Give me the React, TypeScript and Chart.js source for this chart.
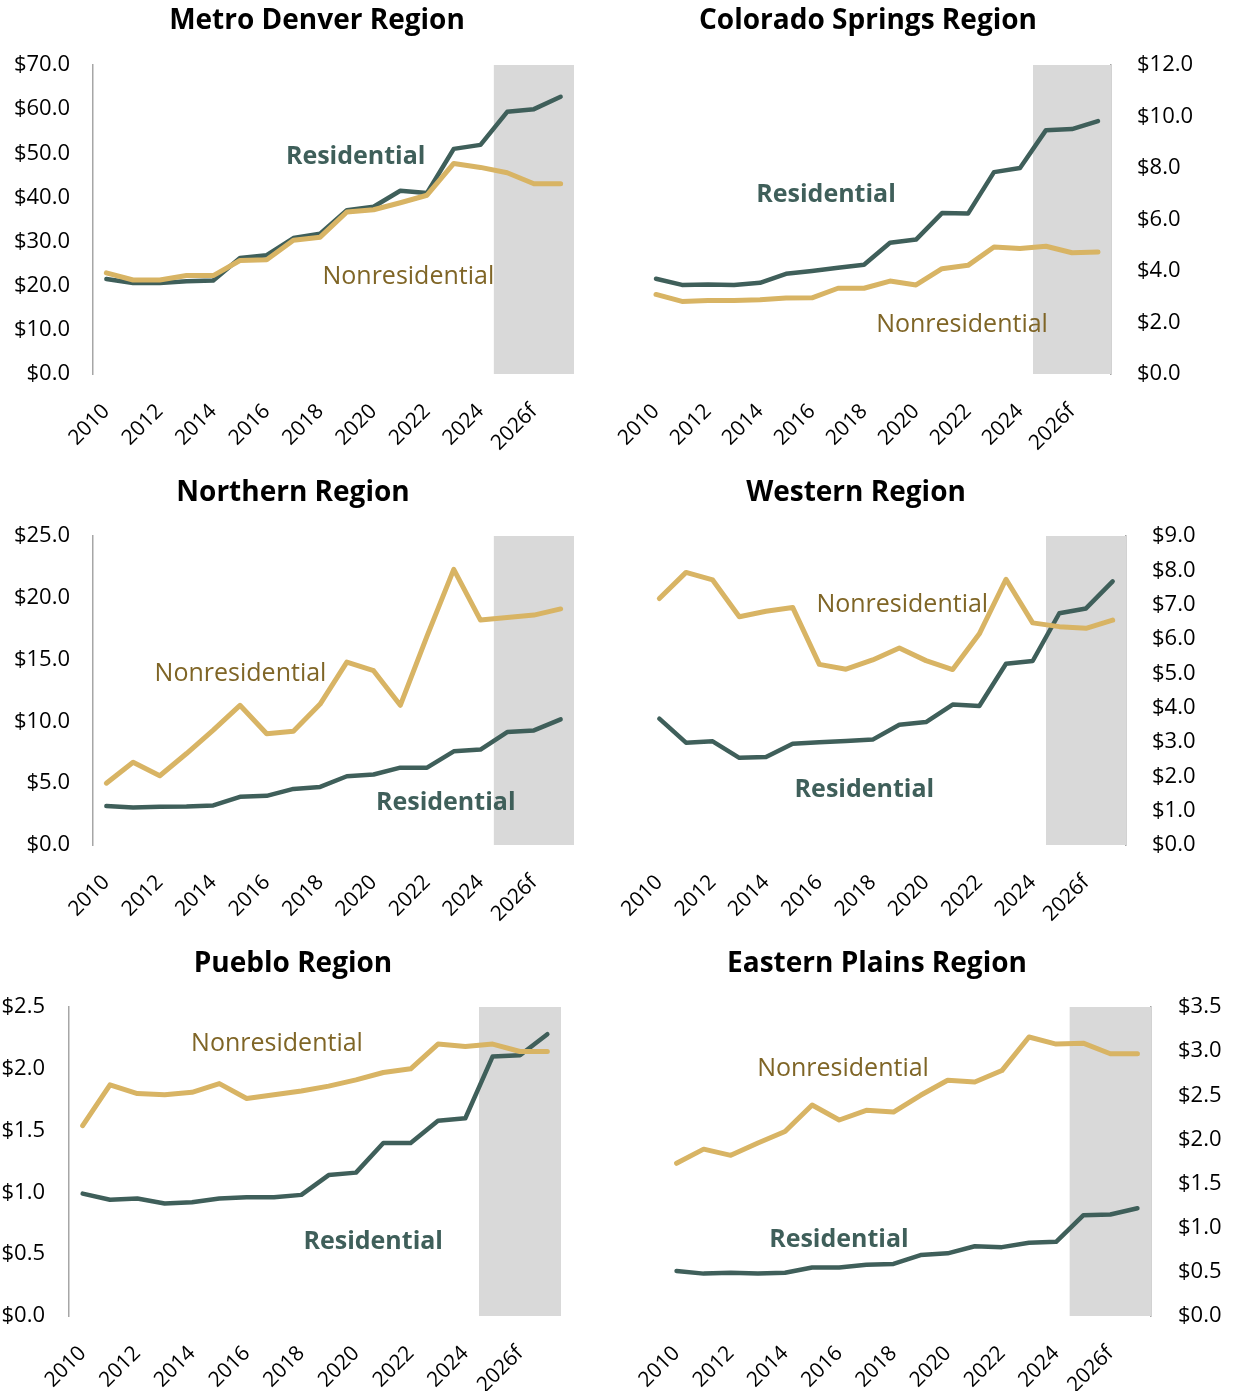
import React, { useEffect, useRef } from "react";
import { Chart, registerables } from "chart.js";

Chart.register(...registerables);

const FONT = "'Open Sans', 'Noto Sans', sans-serif";

// ---- data ----
const YEARS = [
  "2010", "2011", "2012", "2013", "2014", "2015", "2016", "2017", "2018",
  "2019", "2020", "2021", "2022", "2023", "2024", "2025f", "2026f", "2027f",
];

const METRO_DENVER_RESIDENTIAL = [21.5, 20.6, 20.6, 21.0, 21.2, 26.3, 26.9, 30.8, 31.8, 37.1, 37.9, 41.5, 41.0, 51.0, 51.9, 59.4, 60.0, 62.8];
const METRO_DENVER_NONRESIDENTIAL = [22.9, 21.3, 21.3, 22.3, 22.3, 25.7, 25.9, 30.3, 31.0, 36.7, 37.2, 38.8, 40.5, 47.7, 46.8, 45.6, 43.1, 43.1];

const COLORADO_SPRINGS_RESIDENTIAL = [3.70, 3.46, 3.48, 3.46, 3.54, 3.89, 4.00, 4.13, 4.24, 5.10, 5.22, 6.25, 6.23, 7.84, 8.00, 9.47, 9.51, 9.82];
const COLORADO_SPRINGS_NONRESIDENTIAL = [3.09, 2.82, 2.85, 2.85, 2.88, 2.95, 2.96, 3.33, 3.33, 3.61, 3.46, 4.09, 4.22, 4.93, 4.87, 4.96, 4.71, 4.74];

const NORTHERN_RESIDENTIAL = [3.15, 3.04, 3.09, 3.12, 3.2, 3.9, 3.98, 4.54, 4.7, 5.56, 5.7, 6.26, 6.26, 7.58, 7.72, 9.14, 9.27, 10.16];
const NORTHERN_NONRESIDENTIAL = [5.0, 6.7, 5.6, 7.4, 9.3, 11.3, 9.0, 9.2, 11.4, 14.8, 14.1, 11.3, 16.9, 22.3, 18.2, 18.4, 18.6, 19.1];

const WESTERN_RESIDENTIAL = [3.68, 2.98, 3.02, 2.54, 2.56, 2.95, 2.99, 3.03, 3.07, 3.50, 3.58, 4.09, 4.05, 5.28, 5.36, 6.75, 6.89, 7.68];
const WESTERN_NONRESIDENTIAL = [7.18, 7.94, 7.72, 6.65, 6.81, 6.92, 5.26, 5.12, 5.39, 5.74, 5.37, 5.11, 6.15, 7.74, 6.47, 6.36, 6.31, 6.55];

const PUEBLO_RESIDENTIAL = [0.99, 0.94, 0.95, 0.91, 0.92, 0.95, 0.96, 0.96, 0.98, 1.14, 1.16, 1.40, 1.40, 1.58, 1.60, 2.10, 2.11, 2.28];
const PUEBLO_NONRESIDENTIAL = [1.54, 1.87, 1.80, 1.79, 1.81, 1.88, 1.76, 1.79, 1.82, 1.86, 1.91, 1.97, 2.00, 2.20, 2.18, 2.20, 2.14, 2.14];

const EASTERN_PLAINS_RESIDENTIAL = [0.51, 0.48, 0.49, 0.48, 0.49, 0.55, 0.55, 0.58, 0.59, 0.69, 0.71, 0.79, 0.78, 0.83, 0.84, 1.14, 1.15, 1.22];
const EASTERN_PLAINS_NONRESIDENTIAL = [1.73, 1.89, 1.82, 1.96, 2.09, 2.39, 2.22, 2.33, 2.31, 2.50, 2.67, 2.65, 2.78, 3.16, 3.08, 3.09, 2.97, 2.97];

const SERIES_NAMES = ["Residential", "Nonresidential"];

// ---- styles ----
const RES_LINE = "#3F5F5A";
const NON_LINE = "#D8B464";
const RES_TEXT = "#3F5F5A";
const NON_TEXT = "#7F6526";
const SHADE = "#D9D9D9";
const AXIS_LINE = "#A6A6A6";

type PanelCfg = {
  title: string;
  res: number[];
  non: number[];
  yMax: number;
  yStep: number;
  side: "left" | "right";
  resAt: [number, number];
  nonAt: [number, number];
  x: number; y: number; w: number; h: number;
  axisW: number; xPadLeft: number; xPadRight: number;
  titleTop: number; titleBottom: number; xAxisH: number; tickPad: number;
};

const PANELS: PanelCfg[] = [
  {
    title: "Metro Denver Region", res: METRO_DENVER_RESIDENTIAL, non: METRO_DENVER_NONRESIDENTIAL,
    yMax: 70, yStep: 10, side: "left", resAt: [9.33, 49.2], nonAt: [11.3, 22.0],
    x: 0, y: 0, w: 634, h: 460, axisW: 93, xPadLeft: 0, xPadRight: 60,
    titleTop: 4.6, titleBottom: 26.8, xAxisH: 86, tickPad: 23,
  },
  {
    title: "Colorado Springs Region", res: COLORADO_SPRINGS_RESIDENTIAL, non: COLORADO_SPRINGS_NONRESIDENTIAL,
    yMax: 12, yStep: 2, side: "right", resAt: [6.54, 6.95], nonAt: [11.77, 1.9],
    x: 503, y: 0, w: 730, h: 460, axisW: 122, xPadLeft: 140, xPadRight: 0,
    titleTop: 4.6, titleBottom: 26.8, xAxisH: 86, tickPad: 26,
  },
  {
    title: "Northern Region", res: NORTHERN_RESIDENTIAL, non: NORTHERN_NONRESIDENTIAL,
    yMax: 25, yStep: 5, side: "left", resAt: [12.7, 3.4], nonAt: [5.02, 13.83],
    x: 0, y: 460, w: 586, h: 471, axisW: 93, xPadLeft: 0, xPadRight: 12,
    titleTop: 16.6, titleBottom: 25.8, xAxisH: 86, tickPad: 23,
  },
  {
    title: "Western Region", res: WESTERN_RESIDENTIAL, non: WESTERN_NONRESIDENTIAL,
    yMax: 9, yStep: 1, side: "right", resAt: [7.69, 1.6], nonAt: [9.11, 6.99],
    x: 479, y: 460, w: 754, h: 471, axisW: 107, xPadLeft: 167, xPadRight: 0,
    titleTop: 16.6, titleBottom: 25.8, xAxisH: 86, tickPad: 26,
  },
  {
    title: "Pueblo Region", res: PUEBLO_RESIDENTIAL, non: PUEBLO_NONRESIDENTIAL,
    yMax: 2.5, yStep: 0.5, side: "left", resAt: [10.63, 0.6], nonAt: [7.11, 2.2],
    x: 0, y: 931, w: 586, h: 460, axisW: 69, xPadLeft: 0, xPadRight: 25,
    titleTop: 16.6, titleBottom: 25.8, xAxisH: 75, tickPad: 24,
  },
  {
    title: "Eastern Plains Region", res: EASTERN_PLAINS_RESIDENTIAL, non: EASTERN_PLAINS_NONRESIDENTIAL,
    yMax: 3.5, yStep: 0.5, side: "right", resAt: [5.99, 0.86], nonAt: [6.14, 2.8],
    x: 521, y: 931, w: 712, h: 460, axisW: 82, xPadLeft: 142, xPadRight: 0,
    titleTop: 16.6, titleBottom: 25.8, xAxisH: 75, tickPad: 27,
  },
];

const forecastShade = {
  id: "forecastShade",
  beforeDatasetsDraw(chart: any) {
    const { ctx, chartArea } = chart;
    const xs = chart.scales.x;
    const first = YEARS.findIndex((y) => y.endsWith("f"));
    const left = (xs.getPixelForValue(first - 1) + xs.getPixelForValue(first)) / 2;
    ctx.save();
    ctx.fillStyle = SHADE;
    ctx.fillRect(left, chartArea.top, chartArea.right - left, chartArea.bottom - chartArea.top);
    ctx.restore();
  },
};

const seriesLabels = {
  id: "seriesLabels",
  afterDatasetsDraw(chart: any, _args: any, opts: any) {
    const { ctx } = chart;
    const xs = chart.scales.x;
    const ys = chart.scales.y;
    for (const item of opts.items || []) {
      ctx.save();
      ctx.font = `${item.weight} ${item.size}px ${FONT}`;
      ctx.fillStyle = item.color;
      ctx.textAlign = "center";
      ctx.textBaseline = "middle";
      ctx.fillText(item.text, xs.getPixelForValue(item.at[0]), ys.getPixelForValue(item.at[1]));
      ctx.restore();
    }
  },
};

function Panel({ cfg }: { cfg: PanelCfg }) {
  const ref = useRef<HTMLCanvasElement | null>(null);
  useEffect(() => {
    if (!ref.current) return;
    const chart = new Chart(ref.current, {
      type: "line",
      data: {
        labels: YEARS,
        datasets: [
          {
            label: SERIES_NAMES[0], data: cfg.res, borderColor: RES_LINE, borderWidth: 4.5,
            pointRadius: 0, tension: 0, order: 1, borderCapStyle: "round", borderJoinStyle: "round",
          },
          {
            label: SERIES_NAMES[1], data: cfg.non, borderColor: NON_LINE, borderWidth: 5,
            pointRadius: 0, tension: 0, order: 0, borderCapStyle: "round", borderJoinStyle: "round",
          },
        ],
      },
      options: {
        responsive: false,
        animation: false,
        devicePixelRatio: 1,
        layout: { padding: 0 },
        plugins: {
          legend: { display: false },
          tooltip: { enabled: false },
          title: {
            display: true, text: cfg.title, color: "#000",
            font: { family: FONT, size: 28, weight: "bold", lineHeight: 1.2 },
            padding: { top: cfg.titleTop, bottom: cfg.titleBottom },
          },
          seriesLabels: {
            items: [
              { text: SERIES_NAMES[0], at: cfg.resAt, color: RES_TEXT, weight: "bold", size: 25 },
              { text: SERIES_NAMES[1], at: cfg.nonAt, color: NON_TEXT, weight: "normal", size: 25 },
            ],
          },
        } as any,
        scales: {
          x: {
            type: "category",
            offset: true,
            grid: { display: false, drawTicks: false },
            border: { display: false },
            ticks: {
              autoSkip: false, minRotation: 45, maxRotation: 45, padding: 25, color: "#000",
              font: { family: FONT, size: 21 },
              callback: function (this: any, value: any, index: number) {
                return index % 2 === 0 ? this.getLabelForValue(value) : "";
              },
            },
            afterFit: (s: any) => {
              s.height = cfg.xAxisH;
              s.paddingLeft = cfg.xPadLeft;
              s.paddingRight = cfg.xPadRight;
            },
          },
          y: {
            position: cfg.side,
            min: 0,
            max: cfg.yMax,
            grid: { display: false, drawTicks: false },
            border: { display: true, color: AXIS_LINE, width: 1.5 },
            ticks: {
              stepSize: cfg.yStep, autoSkip: false, padding: cfg.tickPad, color: "#000",
              font: { family: FONT, size: 22 },
              callback: (v: any) => "$" + Number(v).toFixed(1),
            },
            afterFit: (s: any) => {
              s.width = cfg.axisW;
            },
          },
        },
      } as any,
      plugins: [forecastShade, seriesLabels],
    });
    return () => chart.destroy();
  }, [cfg]);
  return (
    <canvas
      ref={ref}
      width={cfg.w}
      height={cfg.h}
      style={{ position: "absolute", left: cfg.x, top: cfg.y, width: cfg.w, height: cfg.h }}
    />
  );
}

export default function App() {
  return (
    <div style={{ position: "absolute", left: 0, top: 0, width: 1233, height: 1391, background: "#fff" }}>
      {PANELS.map((p) => (
        <Panel key={p.title} cfg={p} />
      ))}
    </div>
  );
}
